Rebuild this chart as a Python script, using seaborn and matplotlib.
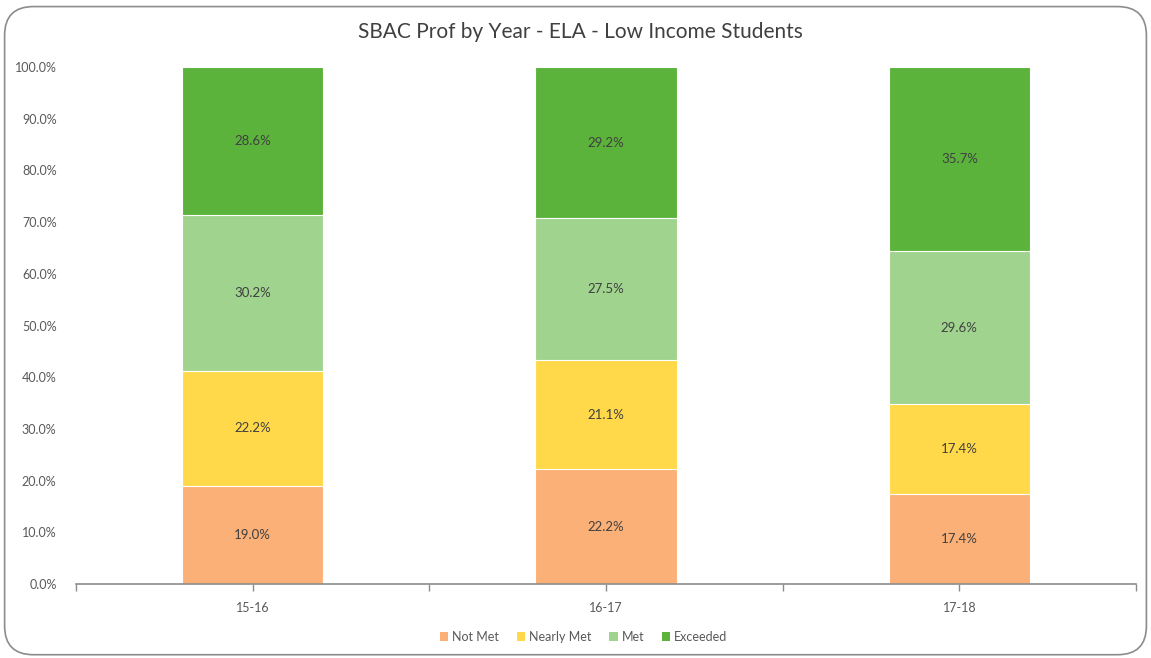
import numpy as np
import pandas as pd
import seaborn as sns
import matplotlib.pyplot as plt
from matplotlib.patches import Patch, FancyBboxPatch

# datos
years = ["15-16", "16-17", "17-18"]
levels = ["Not Met", "Nearly Met", "Met", "Exceeded"]
not_met = [19.0, 22.2, 17.4]
nearly_met = [22.2, 21.1, 17.4]
met = [30.2, 27.5, 29.6]
exceeded = [28.6, 29.2, 35.7]
colors = ["#FBB077", "#FFD94A", "#A0D48E", "#5BB33B"]

df = pd.DataFrame({"year": years, "Not Met": not_met, "Nearly Met": nearly_met,
                   "Met": met, "Exceeded": exceeded})

sns.set_style("white")
plt.rcParams['font.family'] = ['Lato', 'DejaVu Sans']

fig = plt.figure(figsize=(11.51, 6.58), dpi=100)
ax = fig.add_axes([0.066, 0.1125, 0.921, 0.7855])

# apilado: se dibujan las sumas acumuladas, de la mayor a la menor
cum = df[levels].cumsum(axis=1)
for lvl, col in reversed(list(zip(levels, colors))):
    sns.barplot(x=df["year"], y=cum[lvl], color=col, width=0.4, ax=ax,
                saturation=1, edgecolor="white", linewidth=0.8)

# etiquetas de valor
for i, yr in enumerate(years):
    bottom = 0
    for lvl in levels:
        v = df.loc[i, lvl]
        ax.text(i, bottom + v / 2, f"{v:.1f}%", ha="center", va="center",
                fontsize=9.5, color="#404040")
        bottom += v

ax.set_ylim(0, 100)
ax.set_xlim(-0.5, 2.5)
ax.set_yticks(np.arange(0, 101, 10))
ax.set_yticklabels([f"{t:.1f}%" for t in np.arange(0, 101, 10)])
ax.set_xticks([-0.5, 0.5, 1.5, 2.5], minor=True)
ax.set_xlabel("")
ax.set_ylabel("")
ax.tick_params(axis="y", length=0, labelsize=9, colors="#595959", pad=14)
ax.tick_params(axis="x", which="both", bottom=True, direction="out", length=5,
               width=1, color="#8C8C8C", labelsize=9, labelcolor="#595959", pad=8)
for s in ["top", "right", "left"]:
    ax.spines[s].set_visible(False)
ax.spines["bottom"].set_color("#8C8C8C")
ax.spines["bottom"].set_linewidth(1.2)

fig.text(0.504, 0.951, "SBAC Prof by Year - ELA - Low Income Students",
         ha="center", va="center", fontsize=15, color="#404040")

handles = [Patch(facecolor=c, edgecolor="none") for c in colors]
fig.legend(handles, levels, loc="center", bbox_to_anchor=(0.507, 0.032), ncol=4,
           frameon=False, fontsize=9, labelcolor="#595959", handlelength=0.7,
           handleheight=0.7, handletextpad=0.3, columnspacing=1.4)

# borde redondeado del gráfico
fig.patches.append(FancyBboxPatch((0.004, 0.005), 0.992, 0.985,
                                  boxstyle="round,pad=0,rounding_size=0.025",
                                  transform=fig.transFigure, fill=False,
                                  edgecolor="#8C8C8C", linewidth=1.2,
                                  mutation_aspect=1.75))

fig.savefig("out.png", dpi=100)
